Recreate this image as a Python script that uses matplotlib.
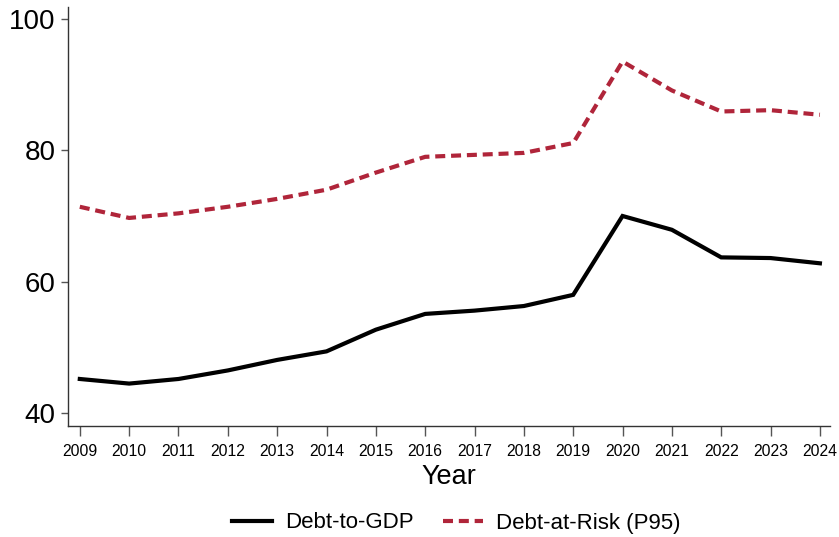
import matplotlib.pyplot as plt

# Data
years = list(range(2009, 2025))
debt_to_gdp = [45.2, 44.5, 45.2, 46.5, 48.1, 49.4, 52.7, 55.1,
               55.6, 56.3, 58.0, 70.0, 67.9, 63.7, 63.6, 62.8]
debt_at_risk = [71.4, 69.7, 70.4, 71.4, 72.6, 74.0, 76.6, 79.0,
                79.3, 79.6, 81.1, 93.5, 89.1, 85.9, 86.1, 85.4]

plt.rcParams['font.family'] = ['Liberation Sans', 'DejaVu Sans']

fig = plt.figure(figsize=(8.39, 5.37), dpi=100)
ax = fig.add_axes([0.081, 0.207, 0.908, 0.78])

ax.plot(years, debt_to_gdp, color='black', lw=3.0, label='Debt-to-GDP',
        solid_joinstyle='miter')
ax.plot(years, debt_at_risk, color='#B0253A', lw=3.0, dashes=(2.4, 1.4),
        label='Debt-at-Risk (P95)')

ax.set_xlim(2008.76, 2024.2)
ax.set_ylim(38.07, 101.8)
ax.set_xticks(years)
ax.set_yticks([40, 60, 80, 100])
ax.tick_params(axis='x', labelsize=11.3, length=7, width=1, color='#555555', pad=6)
ax.tick_params(axis='y', labelsize=20, length=5, width=1, color='#555555', pad=4)
ax.set_xlabel('Year', fontsize=19.5, labelpad=4)

for s in ['top', 'right']:
    ax.spines[s].set_visible(False)
for s in ['left', 'bottom']:
    ax.spines[s].set_color('#333333')
    ax.spines[s].set_linewidth(1)

fig.legend(loc='center', bbox_to_anchor=(456 / 839, 1 - 523 / 537), ncol=2,
           frameon=False, fontsize=16, handlelength=1.8, columnspacing=1.3,
           handletextpad=0.6)

fig.savefig('out.png', dpi=100)
